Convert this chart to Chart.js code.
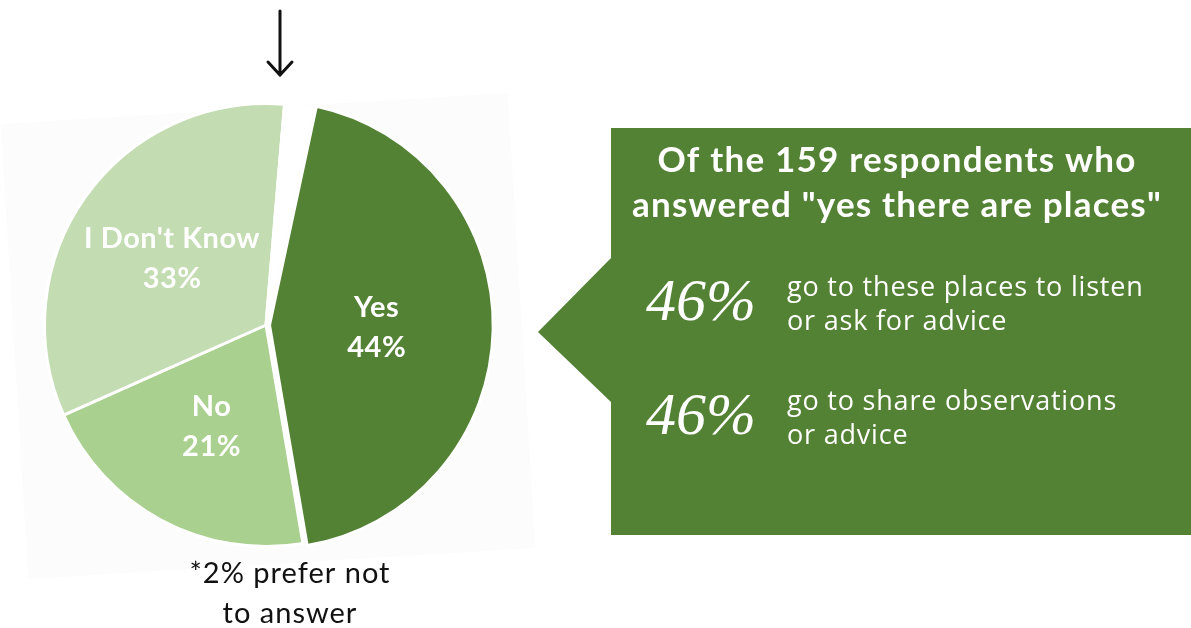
<!DOCTYPE html>
<html>
<head>
<meta charset="utf-8">
<script src="https://cdn.jsdelivr.net/npm/chart.js@4.4.0/dist/chart.umd.min.js"></script>
<style>
  html, body { margin: 0; padding: 0; background: #ffffff; }
  #wrap { position: relative; width: 1191px; height: 628px; }
</style>
</head>
<body>
<div id="wrap"><canvas id="answersChart" width="1191" height="628"></canvas></div>
<script>
// survey answers: "are there places to go?"
const answerLabels = ["Yes", "No", "I Don't Know", "Prefer not to answer"];
const answerShares = [44, 21, 33, 2];

// follow-up among the "yes" group
const heading = ["Of the 159 respondents who", "answered \"yes there are places\""];
const followUpShares = [46, 46];
const followUpNotes = [
    ["go to these places to listen", "or ask for advice"],
    ["go to share observations", "or advice"]
];
const footnote = ["*2% prefer not", "to answer"];

const sliceColors = ["#548235", "#a9d08e", "#c4dcb2", "#ffffff"];
const darkGreen = "#548235";

const backdropPlugin = {
    id: "backdrop",
    beforeDraw(chart) {
        const ctx = chart.ctx;
        ctx.save();
        // faint tilted card behind the pie
        ctx.translate(268, 336);
        ctx.rotate(-3.5 * Math.PI / 180);
        ctx.fillStyle = "#fcfcfc";
        ctx.fillRect(-254, -228, 508, 456);
        ctx.restore();
    }
};

const overlayPlugin = {
    id: "overlay",
    afterDatasetsDraw(chart) {
        const ctx = chart.ctx;
        const meta = chart.getDatasetMeta(0);

        // slice labels
        ctx.save();
        ctx.fillStyle = "#ffffff";
        ctx.textAlign = "center";
        ctx.textBaseline = "middle";
        ctx.font = "bold 29px Lato";
        ctx.letterSpacing = "0.5px";
        meta.data.forEach(function (arc, i) {
            if (i === answerLabels.length - 1) return;
            const p = arc.getProps(["x", "y", "startAngle", "endAngle", "outerRadius"], true);
            const mid = (p.startAngle + p.endAngle) / 2;
            const r = p.outerRadius * (i === 0 ? 0.5 : 0.52);
            const x = p.x + Math.cos(mid) * r;
            const y = p.y + Math.sin(mid) * r;
            ctx.fillText(answerLabels[i], x, y - 20);
            ctx.fillText(answerShares[i] + "%", x, y + 20);
        });
        ctx.restore();
    },
    afterDraw(chart) {
        const ctx = chart.ctx;
        ctx.save();

        // arrow above the pie
        ctx.strokeStyle = "#111111";
        ctx.lineWidth = 3;
        ctx.lineCap = "round";
        ctx.beginPath();
        ctx.moveTo(280, 11);
        ctx.lineTo(280, 75);
        ctx.moveTo(268, 62);
        ctx.lineTo(280, 75);
        ctx.lineTo(292, 62);
        ctx.stroke();

        // footnote
        ctx.fillStyle = "#111111";
        ctx.textAlign = "center";
        ctx.textBaseline = "middle";
        ctx.font = "29px Lato";
        ctx.letterSpacing = "1px";
        ctx.fillText(footnote[0], 290, 574);
        ctx.fillText(footnote[1], 290, 614);

        // callout box
        ctx.fillStyle = darkGreen;
        ctx.beginPath();
        ctx.moveTo(611, 128);
        ctx.lineTo(1191, 128);
        ctx.lineTo(1191, 535);
        ctx.lineTo(611, 535);
        ctx.lineTo(611, 402);
        ctx.lineTo(538, 332);
        ctx.lineTo(611, 258);
        ctx.closePath();
        ctx.fill();

        ctx.fillStyle = "#ffffff";
        ctx.letterSpacing = "1.2px";
        ctx.font = "bold 35px Lato";
        ctx.fillText(heading[0], 897, 161);
        ctx.fillText(heading[1], 897, 206);

        const rows = [304, 418];
        followUpShares.forEach(function (v, i) {
            ctx.textAlign = "center";
            ctx.letterSpacing = "0px";
            ctx.font = "italic 60px 'Liberation Serif'";
            ctx.fillText(v + "%", 701, rows[i]);
            ctx.textAlign = "left";
            ctx.font = "27px 'Open Sans'";
            ctx.letterSpacing = "0.8px";
            ctx.fillText(followUpNotes[i][0], 787, rows[i] - 16);
            ctx.fillText(followUpNotes[i][1], 787, rows[i] + 18);
        });
        ctx.restore();
    }
};

new Chart(document.getElementById("answersChart"), {
    type: "pie",
    data: {
        labels: answerLabels,
        datasets: [{
            data: answerShares,
            backgroundColor: sliceColors,
            borderColor: "#ffffff",
            borderWidth: 3,
            offset: [14, 0, 0, 0]
        }]
    },
    options: {
        responsive: false,
        animation: false,
        rotation: 12,
        layout: { padding: { left: 36, right: 695, top: 92, bottom: 70 } },
        plugins: {
            legend: { display: false },
            tooltip: { enabled: false }
        }
    },
    plugins: [backdropPlugin, overlayPlugin]
});
</script>
</body>
</html>
